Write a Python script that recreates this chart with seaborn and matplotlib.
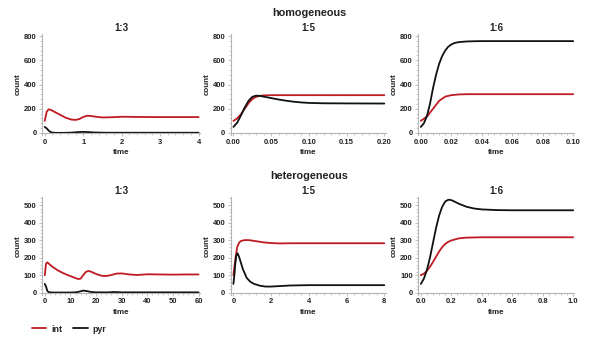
import numpy as np
import pandas as pd
import matplotlib
matplotlib.use("Agg")
import matplotlib.pyplot as plt
import seaborn as sns
from matplotlib.ticker import MultipleLocator
from matplotlib.lines import Line2D

sns.set_theme(style="white")
plt.rcParams['font.family'] = ['Liberation Sans', 'DejaVu Sans']

RED = "#BF1B22"
BLACK = "#111111"

# ---------------- data ----------------
# homogeneous 1:3
h13_int_t = [0, 0.05, 0.1, 0.15, 0.25, 0.4, 0.55, 0.7, 0.8, 0.9, 1.0, 1.1, 1.2, 1.35, 1.5, 1.75, 2, 2.5, 3, 4]
h13_int_v = [100, 175, 195, 192, 175, 150, 125, 110, 108, 115, 132, 142, 140, 133, 128, 130, 134, 132, 131, 131]
h13_pyr_t = [0, 0.05, 0.1, 0.15, 0.2, 0.3, 0.5, 0.7, 0.85, 1.0, 1.15, 1.3, 1.6, 2, 3, 4]
h13_pyr_v = [50, 38, 20, 8, 3, 1, 1, 3, 7, 9, 7, 4, 2, 2, 2, 2]

# homogeneous 1:5
h15_t = [0, 0.005, 0.01, 0.015, 0.02, 0.025, 0.03, 0.035, 0.04, 0.05, 0.06, 0.07, 0.08, 0.09, 0.1, 0.12, 0.15, 0.2]
h15_int_v = [100, 120, 155, 200, 245, 280, 298, 306, 310, 312, 312, 312, 312, 312, 312, 312, 312, 312]
h15_pyr_v = [50, 85, 145, 210, 265, 298, 308, 306, 300, 288, 276, 266, 258, 252, 248, 245, 244, 243]

# homogeneous 1:6
h16_int_t = [0, 0.004, 0.008, 0.012, 0.016, 0.02, 0.025, 0.03, 0.04, 0.06, 0.1]
h16_int_v = [100, 135, 200, 265, 300, 312, 318, 320, 320, 320, 320]
h16_pyr_t = [0, 0.002, 0.004, 0.006, 0.008, 0.010, 0.012, 0.014, 0.016, 0.018, 0.020, 0.022, 0.025, 0.03, 0.035, 0.04, 0.05, 0.06, 0.08, 0.1]
h16_pyr_v = [50, 80, 140, 240, 370, 480, 570, 635, 680, 712, 730, 742, 750, 755, 757, 758, 758, 758, 758, 758]

# heterogeneous 1:3
e13_int_t = [0, 0.5, 1, 2, 3, 5, 7, 9, 11, 13, 14, 15, 16, 17, 18, 20, 22, 24, 26, 28, 30, 33, 36, 40, 45, 50, 55, 60]
e13_int_v = [100, 165, 173, 160, 148, 128, 113, 100, 89, 78, 80, 100, 118, 124, 120, 107, 97, 95, 101, 109, 110, 104, 101, 105, 104, 103, 104, 104]
e13_pyr_t = [0, 0.5, 1, 1.5, 3, 10, 12, 13.5, 15, 16.5, 18, 20, 25, 27, 30, 40, 60]
e13_pyr_v = [50, 35, 10, 3, 1, 1, 2, 6, 12, 9, 4, 2, 2, 4, 2, 2, 2]

# heterogeneous 1:5
e15_int_t = [0, 0.1, 0.2, 0.3, 0.4, 0.6, 0.8, 1.0, 1.3, 1.6, 2.0, 2.5, 3, 4, 5, 6, 8]
e15_int_v = [100, 190, 260, 285, 295, 300, 300, 297, 292, 287, 283, 281, 282, 282, 282, 282, 282]
e15_pyr_t = [0, 0.05, 0.1, 0.15, 0.22, 0.3, 0.4, 0.5, 0.7, 0.9, 1.1, 1.4, 1.7, 2.0, 2.5, 3, 4, 5, 6, 8]
e15_pyr_v = [50, 100, 165, 210, 225, 205, 170, 135, 85, 62, 50, 40, 35, 35, 38, 41, 43, 43, 43, 43]

# heterogeneous 1:6
e16_int_t = [0, 0.02, 0.04, 0.06, 0.08, 0.1, 0.12, 0.14, 0.16, 0.18, 0.2, 0.25, 0.3, 0.4, 0.6, 1.0]
e16_int_v = [100, 108, 125, 148, 175, 205, 235, 260, 278, 290, 298, 310, 314, 316, 316, 316]
e16_pyr_t = [0, 0.02, 0.04, 0.06, 0.08, 0.1, 0.12, 0.14, 0.16, 0.18, 0.2, 0.22, 0.25, 0.3, 0.35, 0.4, 0.5, 0.6, 0.8, 1.0]
e16_pyr_v = [50, 80, 130, 200, 285, 370, 440, 490, 520, 530, 528, 520, 507, 490, 480, 475, 471, 470, 470, 470]

ratios = ["1:3", "1:5", "1:6"]
row_titles = ["homogeneous", "heterogeneous"]

panels = [
    # (int_t, int_v, pyr_t, pyr_v, xmax, xmajor, xfmt)
    (h13_int_t, h13_int_v, h13_pyr_t, h13_pyr_v, 4, 1, "{:.0f}"),
    (h15_t, h15_int_v, h15_t, h15_pyr_v, 0.2, 0.05, "{:.2f}"),
    (h16_int_t, h16_int_v, h16_pyr_t, h16_pyr_v, 0.1, 0.02, "{:.2f}"),
    (e13_int_t, e13_int_v, e13_pyr_t, e13_pyr_v, 60, 10, "{:.0f}"),
    (e15_int_t, e15_int_v, e15_pyr_t, e15_pyr_v, 8, 2, "{:.0f}"),
    (e16_int_t, e16_int_v, e16_pyr_t, e16_pyr_v, 1.0, 0.2, "{:.1f}"),
]

W, H = 598, 341
fig = plt.figure(figsize=(W / 100, H / 100), dpi=100)

# pixel layout: (left px, width px)
col_px = [(42.3, 157.5), (231.0, 154.5), (418.4, 156.0)]
row_px = [(134.8, 100.6, (-15, 815), 200, 800),  # bottom px, height px, ylim, ymajor, ymax
          (294.8, 98.2, (-12, 548), 100, 500)]

AX_COL = "#b5b5b5"
TXT_COL = "#222222"

for i, (it, iv, pt, pv, xmax, xmaj, xfmt) in enumerate(panels):
    r, c = divmod(i, 3)
    lpx, wpx = col_px[c]
    bpx, hpx, ylim, ymaj, ymax = row_px[r]
    ax = fig.add_axes([lpx / W, 1 - bpx / H, wpx / W, hpx / H])
    ax.set_facecolor("none")
    df_i = pd.DataFrame({"time": it, "count": iv})
    df_p = pd.DataFrame({"time": pt, "count": pv})
    sns.lineplot(data=df_i, x="time", y="count", ax=ax, color=RED, lw=1.3)
    sns.lineplot(data=df_p, x="time", y="count", ax=ax, color=BLACK, lw=1.3)
    pad = 0.016 * xmax
    ax.set_xlim(-pad, xmax * 1.008)
    ax.set_ylim(*ylim)
    for s in ["top", "right"]:
        ax.spines[s].set_visible(False)
    for s in ["left", "bottom"]:
        ax.spines[s].set_color(AX_COL)
        ax.spines[s].set_linewidth(0.8)
    ax.spines["bottom"].set_position(("data", 0))
    xt = np.arange(0, xmax + xmaj / 2, xmaj)
    ax.set_xticks(xt)
    ax.set_xticklabels([xfmt.format(v) for v in xt])
    yt = np.arange(0, ymax + 1, ymaj)
    ax.set_yticks(yt)
    ax.set_yticklabels([str(int(v)) for v in yt])
    ax.xaxis.set_minor_locator(MultipleLocator(xmaj / 5))
    ax.yaxis.set_minor_locator(MultipleLocator(ymaj / 5))
    ax.tick_params(axis="both", which="major", length=2.5, width=0.6, color=AX_COL,
                   labelsize=5.5, labelcolor=TXT_COL, pad=1.5, direction="out",
                   bottom=True, left=True)
    ax.tick_params(axis="both", which="minor", length=1.3, width=0.5, color=AX_COL,
                   direction="out", bottom=True, left=True)
    for lab in ax.get_xticklabels() + ax.get_yticklabels():
        lab.set_fontweight("bold")
    ax.set_xlabel("time", fontsize=5.8, fontweight="bold", color=TXT_COL, labelpad=2.5)
    ax.set_ylabel("count", fontsize=5.8, fontweight="bold", color=TXT_COL)
    ax.yaxis.set_label_coords(-20.5 / wpx, 0.5)
    ax.set_title(ratios[c], fontsize=7.0, fontweight="bold", color=TXT_COL, pad=2.0)
    ax.grid(False)

fig.text(309 / W, 1 - 13 / H, row_titles[0], ha="center", va="center",
         fontsize=7.8, fontweight="bold", color=TXT_COL)
fig.text(309 / W, 1 - 175.7 / H, row_titles[1], ha="center", va="center",
         fontsize=7.8, fontweight="bold", color=TXT_COL)

handles = [Line2D([], [], color=RED, lw=1.3), Line2D([], [], color=BLACK, lw=1.3)]
fig.legend(handles, ["int", "pyr"], loc="center left", bbox_to_anchor=(24 / W, 1 - 329 / H),
           ncol=2, frameon=False, handlelength=1.6, handletextpad=0.6,
           columnspacing=1.2, prop={"weight": "bold", "size": 6.4})

fig.savefig("out.png", dpi=100)
